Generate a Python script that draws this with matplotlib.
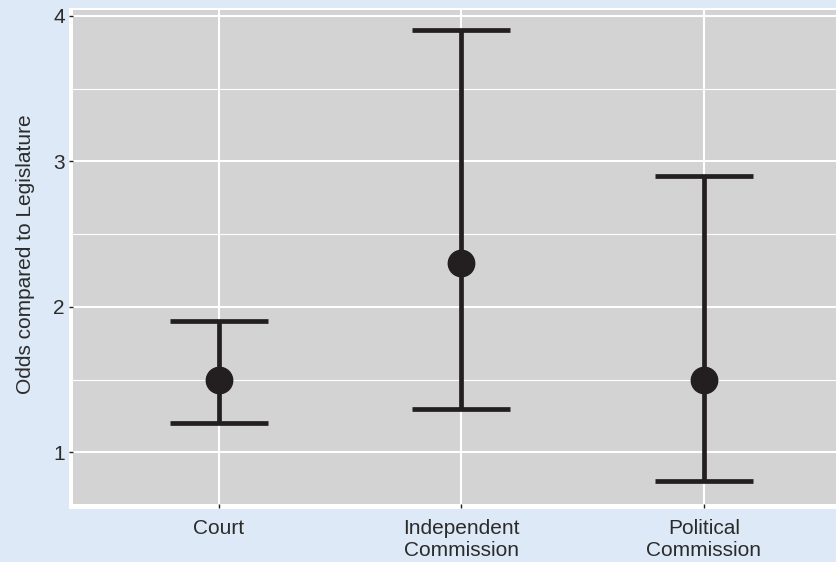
import matplotlib.pyplot as plt
import matplotlib.transforms as mtransforms
from matplotlib.patches import Rectangle
from matplotlib.ticker import MultipleLocator

plt.rcParams["font.family"] = ["Liberation Sans", "DejaVu Sans"]

categories = ["Court", "Independent\nCommission", "Political\nCommission"]
odds = [1.5, 2.3, 1.5]
lower = [1.2, 1.3, 0.8]
upper = [1.9, 3.9, 2.9]

bg = "#dde9f6"
panel = "#d3d3d3"
ink = "#231f20"

fig = plt.figure(figsize=(8.37, 5.62), dpi=100, facecolor=bg)

# white frame behind the grey panel
fig.patches.append(Rectangle((69 / 837, 1 - 509 / 562), 1.2, (509 - 8) / 562,
                             transform=fig.transFigure, facecolor="white",
                             edgecolor="none", zorder=-1))

ax = fig.add_axes([73 / 837, 1 - 504 / 562, (849.5 - 73) / 837, (504 - 10) / 562])
ax.set_zorder(1)
ax.set_facecolor(panel)
for s in ax.spines.values():
    s.set_visible(False)

x = list(range(1, len(categories) + 1))
err = [[o - l for o, l in zip(odds, lower)], [u - o for o, u in zip(odds, upper)]]
ax.errorbar(x, odds, yerr=err, fmt="o", color=ink, ecolor=ink, markersize=19,
            elinewidth=3.4, capsize=35, capthick=3.4, zorder=3)

ax.set_xlim(0.4, 3.6)
ax.set_ylim(0.645, 4.04)
ax.set_xticks(x)
ax.set_xticklabels(categories, linespacing=1.2)
ax.yaxis.set_major_locator(MultipleLocator(1))
ax.yaxis.set_minor_locator(MultipleLocator(0.5))

ax.grid(which="major", color="white", linewidth=1.5)
ax.grid(which="minor", axis="y", color="white", linewidth=0.8)
ax.set_axisbelow(True)

ax.tick_params(axis="both", which="major", length=3, width=1, color=ink,
               labelsize=15, labelcolor="#2b2b2b", pad=3)
ax.tick_params(axis="x", pad=8)
ax.tick_params(which="minor", length=0)
ax.set_ylabel("Odds compared to Legislature", fontsize=15, color="#2b2b2b")
ax.yaxis.set_label_coords(35 / 837, 0.506,
                          transform=mtransforms.blended_transform_factory(fig.transFigure, ax.transAxes))

plt.savefig("out.png", dpi=100, facecolor=bg)
